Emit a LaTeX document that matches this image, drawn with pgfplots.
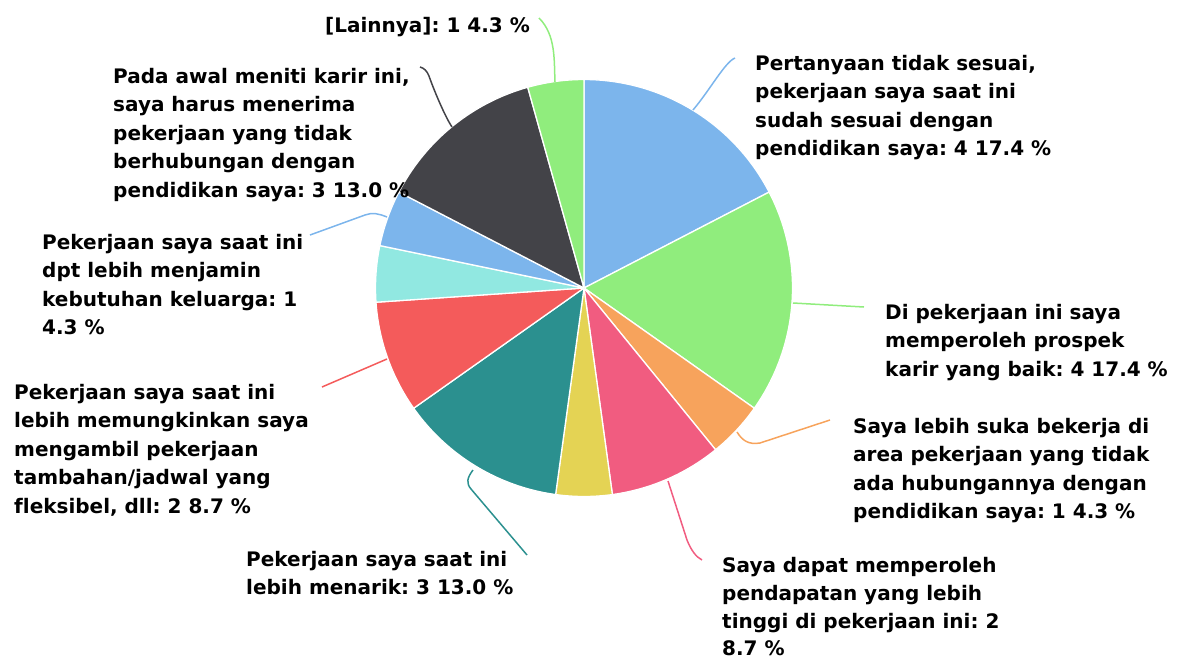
\documentclass[border=0pt]{standalone}
\usepackage{pgfplots}
\pgfplotsset{compat=1.18}
\usepackage{fontspec}
\setmainfont{DejaVu Sans}[Ligatures=NoCommon]
\frenchspacing
\definecolor{cBlue}{HTML}{7CB5EC}
\definecolor{cGreen}{HTML}{90ED7D}
\definecolor{cOrange}{HTML}{F7A35C}
\definecolor{cPink}{HTML}{F15C80}
\definecolor{cYellow}{HTML}{E4D354}
\definecolor{cTeal}{HTML}{2B908F}
\definecolor{cRed}{HTML}{F45B5B}
\definecolor{cCyan}{HTML}{91E8E1}
\definecolor{cDark}{HTML}{434348}
% counts (total 23): 4,4,1,2,1,3,2,1,1,3,1
\newcommand\cx{584}
\newcommand\cy{288}
\newcommand\rr{208.5}
\newcommand\slice[3]{% start cum, end cum, colour
  \addplot[draw=white, line width=1.3pt, fill=#3, line join=round,
    domain={360*#1/23}:{360*#2/23}, samples=60, variable=\t]
    ({\cx+\rr*sin(\t)},{\cy-\rr*cos(\t)}) -- (axis cs:\cx,\cy) -- cycle;}
\newcommand\lbl[3]{\node[anchor=base west, inner sep=0pt, font=\fontsize{20}{24}\selectfont\bfseries, text=black] at (axis cs:#1,#2) {#3};}
\begin{document}
\begin{tikzpicture}
\begin{axis}[x=1pt, y=1pt, xmin=0, xmax=1179, ymin=0, ymax=659, y dir=reverse,
  hide axis, clip=false, scale only axis, anchor=south west]
\coordinate (TL) at (axis cs:0,0);
\coordinate (BR) at (axis cs:1179,659);
\slice{0}{4}{cBlue}
\slice{4}{8}{cGreen}
\slice{8}{9}{cOrange}
\slice{9}{11}{cPink}
\slice{11}{12}{cYellow}
\slice{12}{15}{cTeal}
\slice{15}{17}{cRed}
\slice{17}{18}{cCyan}
\slice{18}{19}{cBlue}
\slice{19}{22}{cDark}
\slice{22}{23}{cGreen}
% connectors
\begin{scope}[line width=1.5pt]
\draw[cGreen] (axis cs:555,82) .. controls (axis cs:554,60) and (axis cs:556,35) .. (axis cs:539,18);
\draw[cBlue] (axis cs:693,110) .. controls (axis cs:710,90) and (axis cs:725,62) .. (axis cs:735,58);
\draw[cGreen] (axis cs:793,303) -- (axis cs:864,307);
\draw[cOrange] (axis cs:737,432) .. controls (axis cs:742,440) and (axis cs:748,445) .. (axis cs:760,443) -- (axis cs:830,420);
\draw[cPink] (axis cs:668,481) -- (axis cs:687,540) .. controls (axis cs:691,550) and (axis cs:696,557) .. (axis cs:702,560);
\draw[cTeal] (axis cs:473,470) .. controls (axis cs:467,478) and (axis cs:466,483) .. (axis cs:471,489) -- (axis cs:527,555);
\draw[cRed] (axis cs:387,359) -- (axis cs:322,387);
\draw[cBlue] (axis cs:387,217) .. controls (axis cs:380,214) and (axis cs:372,212) .. (axis cs:365,215) -- (axis cs:310,235);
\draw[cDark] (axis cs:452,127) .. controls (axis cs:444,115) and (axis cs:432,85) .. (axis cs:429,76) .. controls (axis cs:427,71) and (axis cs:424,68) .. (axis cs:420,67);
\end{scope}
% labels
\lbl{325}{32}{[Lainnya]: 1 4.3 \%}
\lbl{755}{70}{Pertanyaan tidak sesuai,}
\lbl{755}{98.5}{pekerjaan saya saat ini}
\lbl{755}{127}{sudah sesuai dengan}
\lbl{755}{155.5}{pendidikan saya: 4 17.4 \%}
\lbl{113}{83}{Pada awal meniti karir ini,}
\lbl{113}{111.5}{saya harus menerima}
\lbl{113}{140}{pekerjaan yang tidak}
\lbl{113}{168.5}{berhubungan dengan}
\lbl{113}{197}{pendidikan saya: 3 13.0 \%}
\lbl{42}{249}{Pekerjaan saya saat ini}
\lbl{42}{277.5}{dpt lebih menjamin}
\lbl{42}{306}{kebutuhan keluarga: 1}
\lbl{42}{334.5}{4.3 \%}
\lbl{14}{399}{Pekerjaan saya saat ini}
\lbl{14}{427.5}{lebih memungkinkan saya}
\lbl{14}{456}{mengambil pekerjaan}
\lbl{14}{484.5}{tambahan/jadwal yang}
\lbl{14}{513}{fleksibel, dll: 2 8.7 \%}
\lbl{885}{319}{Di pekerjaan ini saya}
\lbl{885}{347.5}{memperoleh prospek}
\lbl{885}{376}{karir yang baik: 4 17.4 \%}
\lbl{853}{433}{Saya lebih suka bekerja di}
\lbl{853}{461.5}{area pekerjaan yang tidak}
\lbl{853}{490}{ada hubungannya dengan}
\lbl{853}{518.5}{pendidikan saya: 1 4.3 \%}
\lbl{246}{566}{Pekerjaan saya saat ini}
\lbl{246}{594.5}{lebih menarik: 3 13.0 \%}
\lbl{722}{572}{Saya dapat memperoleh}
\lbl{722}{600}{pendapatan yang lebih}
\lbl{722}{628}{tinggi di pekerjaan ini: 2}
\lbl{722}{655.5}{8.7 \%}
\end{axis}
\pgfresetboundingbox
\path (TL) rectangle (BR);
\end{tikzpicture}
\end{document}
